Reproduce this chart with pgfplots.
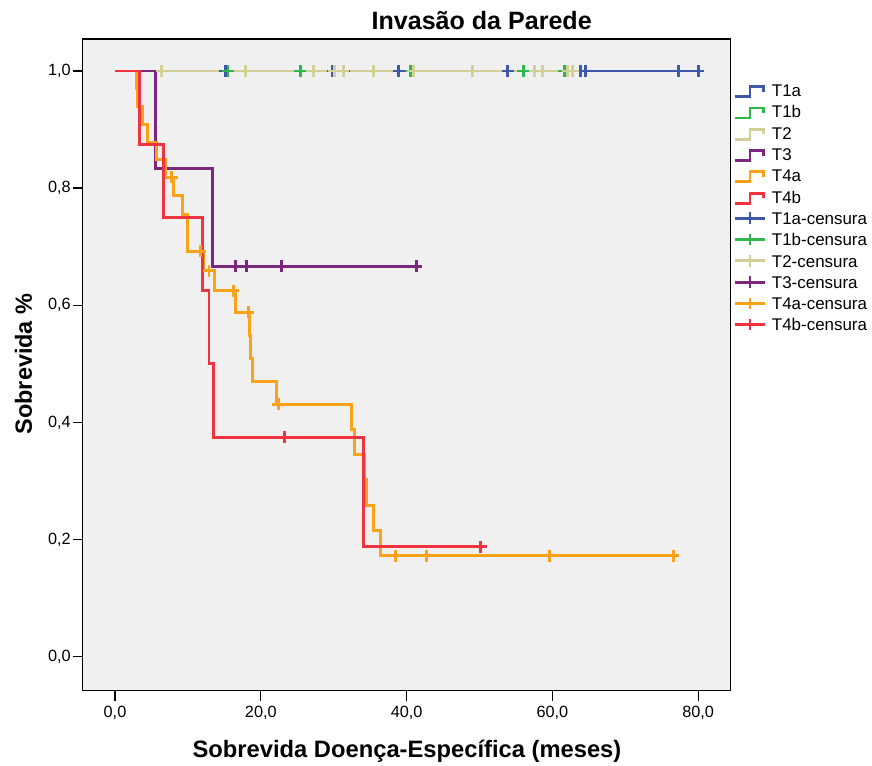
\documentclass[border=0pt]{standalone}
\usepackage{pgfplots}
\pgfplotsset{compat=1.18}
\usepackage{fontspec}
\setmainfont{Liberation Sans}

\definecolor{cT1a}{RGB}{62,88,172}
\definecolor{cT1b}{RGB}{46,184,76}
\definecolor{cT2}{RGB}{212,206,151}
\definecolor{cT3}{RGB}{121,40,125}
\definecolor{cT4a}{RGB}{251,162,25}
\definecolor{cT4b}{RGB}{239,51,64}
\definecolor{panel}{RGB}{240,240,240}

\begin{document}
\begin{tikzpicture}
\useasboundingbox (-62.025pt,-55.725pt) rectangle (591.975pt,518.025pt);
\begin{axis}[
  at={(0pt,0pt)}, anchor=south west,
  scale only axis, width=486pt, height=488.8pt,
  xmin=-4.43, xmax=84.46, ymin=-0.058, ymax=1.0547,
  axis background/.style={fill=panel},
  axis line style={line width=1pt, black},
  xtick={0,20,40,60,80}, ytick={0,0.2,0.4,0.6,0.8,1},
  xtick pos=left, ytick pos=left,
  tick align=outside, major tick length=7.5pt,
  tick style={line width=1pt, black},
  ticklabel style={font=\fontsize{12.2}{14}\selectfont},
  yticklabel style={xshift=2pt},
  xticklabel style={yshift=-0.6pt},
  /pgf/number format/fixed,
  /pgf/number format/fixed zerofill,
  /pgf/number format/precision=1,
  /pgf/number format/use comma,
  /pgf/number format/assume math mode=true,
  km/.style={const plot, line width=2.2pt, line join=miter},
  censor/.style={only marks, mark=+, mark size=4.5pt, mark options={line width=2.2pt}},
]
% survival curves (Kaplan-Meier steps)
\addplot[km, cT1a] coordinates {(0,1) (80,1)};
\addplot[km, cT1b] coordinates {(0,1) (61.6,1)};
\addplot[km, cT2] coordinates {(0,1) (62.8,1)};
\addplot[km, cT3] coordinates {(0,1) (5.6,0.8333) (13.4,0.6667) (41.3,0.6667)};
\addplot[km, cT4a] coordinates {
  (0,1) (2.9,0.9697) (3.05,0.9394) (3.8,0.9091) (4.5,0.8788) (5.7,0.8485)
  (6.9,0.8182) (8.0,0.7867) (9.3,0.7552) (9.9,0.6923) (12.2,0.6593)
  (13.7,0.6246) (16.5,0.5879) (18.4,0.5487) (18.6,0.5095) (18.8,0.4703)
  (22.2,0.4311) (32.4,0.3880) (32.9,0.3449) (34.2,0.3018) (34.5,0.2587)
  (35.4,0.2156) (36.4,0.1725) (76.6,0.1725)};
\addplot[km, cT4b] coordinates {
  (0,1) (3.4,0.875) (6.7,0.75) (12.0,0.625) (12.9,0.5) (13.5,0.375)
  (34.1,0.1875) (50.2,0.1875)};
% censored observations
\addplot[censor, cT1a] coordinates {(15.1,1) (29.9,1) (31.4,1) (38.9,1) (53.9,1) (63.9,1) (64.5,1) (77.3,1) (80.0,1)};
\addplot[censor, cT1b] coordinates {(15.5,1) (25.4,1) (40.6,1) (56.0,1) (61.6,1)};
\addplot[censor, cT2] coordinates {(6.4,1) (17.9,1) (27.2,1) (30.1,1) (31.3,1) (35.4,1) (40.9,1) (49.0,1) (57.6,1) (58.6,1) (62.1,1) (62.8,1)};
\addplot[censor, cT3] coordinates {(16.5,0.6667) (18.1,0.6667) (22.9,0.6667) (41.3,0.6667)};
\addplot[censor, cT4a] coordinates {(7.8,0.8182) (11.7,0.6923) (12.9,0.6593) (16.2,0.6246) (18.3,0.5879) (22.4,0.4311) (38.5,0.1725) (42.7,0.1725) (59.6,0.1725) (76.6,0.1725)};
\addplot[censor, cT4b] coordinates {(23.3,0.375) (50.2,0.1875)};
\end{axis}

% titles and legend, placed on a pixel grid measured from the top-left corner
\begin{scope}[x=0.75pt, y=-0.75pt, shift={(-62.025pt,518.025pt)}]
  \node[anchor=base, font=\bfseries\fontsize{18.8}{20}\selectfont, inner sep=0pt] at (481.7,30) {Invasão da Parede};
  \node[anchor=base, font=\bfseries\fontsize{17.8}{20}\selectfont, inner sep=0pt] at (407,757) {Sobrevida Doença-Específica (meses)};
  \node[anchor=base, rotate=90, font=\bfseries\fontsize{17.6}{20}\selectfont, inner sep=0pt] at (32,364) {Sobrevida \%};
  \foreach \c/\t [count=\i from 0] in {cT1a/T1a, cT1b/T1b, cT2/T2, cT3/T3, cT4a/T4a, cT4b/T4b}{
    \pgfmathsetmacro{\yb}{96.7+21.3*\i}
    \draw[\c, line width=2.2pt] (735,\yb) -- (750,\yb) -- (750,\yb-10) -- (763.5,\yb-10) -- (763.5,\yb-5);
    \node[anchor=base west, inner sep=0pt, font=\fontsize{12.7}{14}\selectfont] at (771.7,\yb) {\t};
  }
  \foreach \c/\t [count=\i from 6] in {cT1a/T1a, cT1b/T1b, cT2/T2, cT3/T3, cT4a/T4a, cT4b/T4b}{
    \pgfmathsetmacro{\yb}{96.7+21.3*\i}
    \draw[\c, line width=2.2pt] (735,\yb-6.2) -- (765,\yb-6.2);
    \draw[\c, line width=2.2pt] (750,\yb-12) -- (750,\yb-0.5);
    \node[anchor=base west, inner sep=0pt, font=\fontsize{12.7}{14}\selectfont] at (771.7,\yb) {\t-censura};
  }
\end{scope}
\end{tikzpicture}
\end{document}
